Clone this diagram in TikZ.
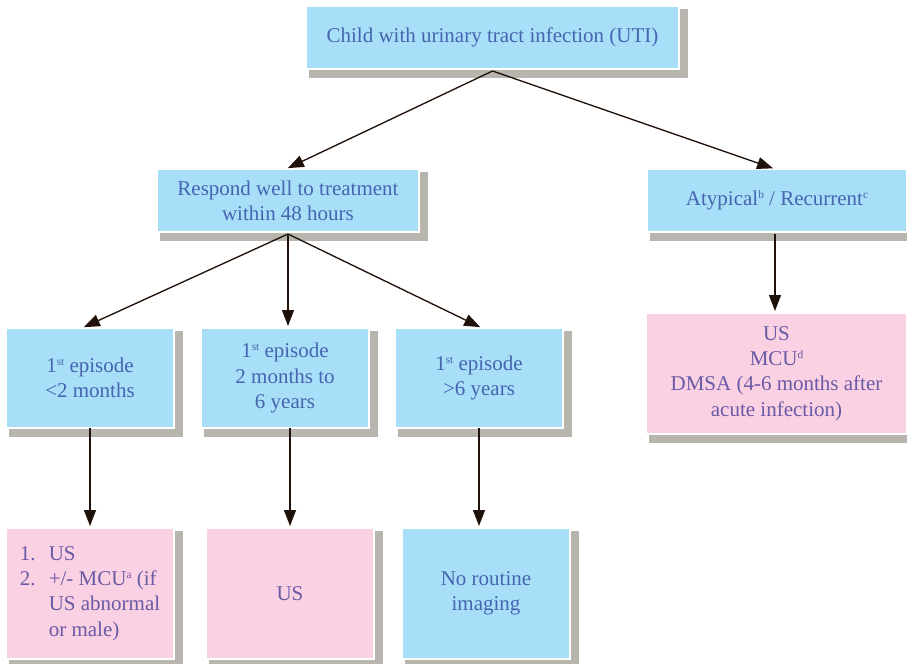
\documentclass[tikz,border=0pt]{standalone}
\usepackage{fontspec}
\setmainfont{LiberationSerif}[Extension=.ttf,UprightFont=*-Regular,BoldFont=*-Bold,ItalicFont=*-Italic]
\usetikzlibrary{arrows.meta,calc}
\definecolor{bfill}{RGB}{167,223,249}
\definecolor{pfill}{RGB}{250,208,227}
\definecolor{shgray}{RGB}{184,180,174}
\definecolor{btext}{RGB}{70,100,175}
\definecolor{ptext}{RGB}{105,90,165}
\definecolor{arrcol}{RGB}{32,18,10}
\newcommand{\supr}[1]{\raisebox{0.75ex}{\fontsize{8.5}{8.5}\selectfont #1}}
\pgfdeclarelayer{bg}
\pgfsetlayers{bg,main}
\tikzset{
  box/.style={rectangle, draw=white, line width=1.5pt, inner sep=0pt, outer sep=0pt,
    align=center, font=\fontsize{15.75}{19}\selectfont},
  bluebox/.style={box, fill=bfill, text=btext},
  pinkbox/.style={box, fill=pfill, text=ptext},
  conn/.style={draw=arrcol, line width=1pt, -{Triangle[length=12pt,width=9pt]}, shorten >=1.5pt},
}
\begin{document}
\begin{tikzpicture}[x=0.75pt,y=-0.75pt]
\useasboundingbox (0,0) rectangle (907,664);
\clip (0,0) rectangle (907,664);
\node[bluebox, minimum width=279.75pt, minimum height=47.25pt] (top) at (492.5,37.5)
  {Child with urinary tract infection (UTI)};
\node[bluebox, minimum width=196.5pt, minimum height=47.25pt] (resp) at (288,200.5)
  {Respond well to treatment\\within 48 hours};
\node[bluebox, minimum width=195pt, minimum height=47.25pt] (atyp) at (777,200.5)
  {Atypical\supr{b} / Recurrent\supr{c}};
\node[pinkbox, minimum width=195.75pt, minimum height=90.75pt] (pinkr) at (776.5,373.5)
  {US\\MCU\supr{d}\\DMSA (4-6 months after\\acute infection)};
\node[bluebox, minimum width=126pt, minimum height=75pt] (b1) at (90,378)
  {1\supr{st} episode\\<2 months};
\node[bluebox, minimum width=126pt, minimum height=75pt] (b2) at (285,378)
  {1\supr{st} episode\\2 months to\\6 years};
\node[bluebox, minimum width=126pt, minimum height=75pt] (b3) at (479,378)
  {1\supr{st} episode\\>6 years};
\node[pinkbox, minimum width=126pt, minimum height=98.25pt, align=left] (c1) at (90,593.5)
  {\makebox[21.75pt][l]{1.}US\\\makebox[21.75pt][l]{2.}+/- MCU\supr{a} (if\\\hspace*{21.75pt}US abnormal\\\hspace*{21.75pt}or male)};
\node[pinkbox, minimum width=126pt, minimum height=98.25pt] (c2) at (290,593.5) {US};
\node[bluebox, minimum width=126pt, minimum height=98.25pt] (c3) at (486,593.5)
  {No routine\\imaging};
\begin{pgfonlayer}{bg}
\foreach \n in {top,resp,atyp,pinkr,b1,b2,b3,c1,c2,c3}
  \fill[shgray] ($(\n.north west)+(3,3)$) rectangle ($(\n.south east)+(9,9)$);
\end{pgfonlayer}
\draw[conn] ($(top.south)+(0,2)$) -- ($(resp.north)+(-2,0)$);
\draw[conn] ($(top.south)+(0,2)$) -- ($(atyp.north)+(-2,0)$);
\draw[conn] ($(resp.south)+(0,2)$) -- ($(b1.north)+(-8,0)$);
\draw[conn] ($(resp.south)+(0,2)$) -- (resp.south |- b2.north);
\draw[conn] ($(resp.south)+(0,2)$) -- ($(b3.north)+(3,0)$);
\draw[conn] ($(atyp.south)+(-2,2)$) -- ($(pinkr.north)+(-1.5,0)$);
\draw[conn] (b1.south) -- (c1.north);
\draw[conn] (c2.north |- b2.south) -- (c2.north);
\draw[conn] (b3.south) -- (b3.south |- c3.north);
\end{tikzpicture}
\end{document}
